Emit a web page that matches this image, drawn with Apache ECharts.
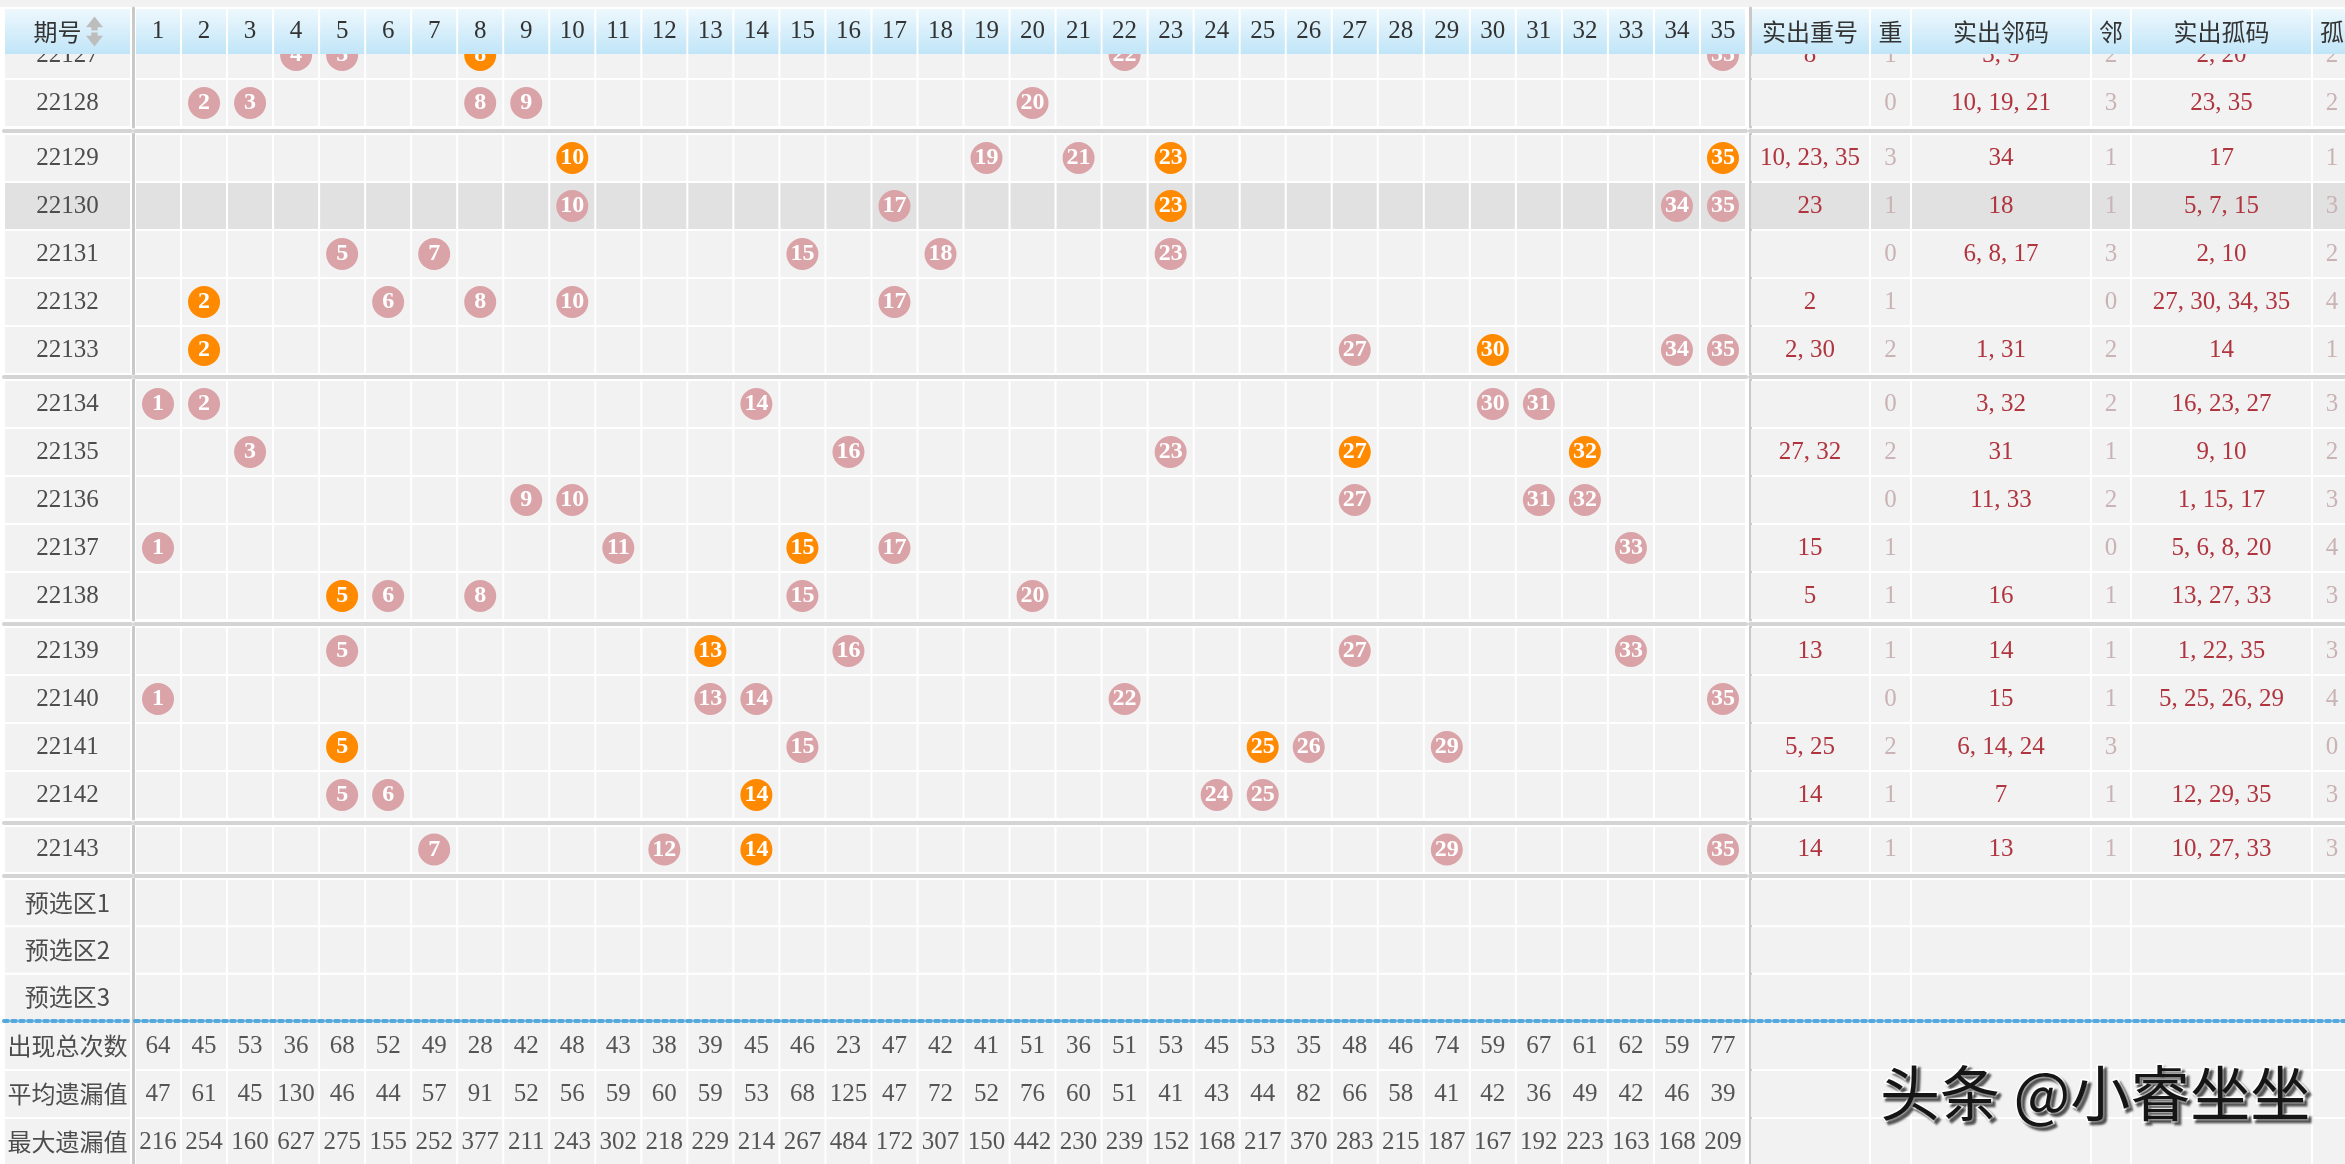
<!DOCTYPE html>
<html><head><meta charset="utf-8">
<script src="https://cdn.jsdelivr.net/npm/echarts@6/dist/echarts.min.js"></script>
<style>html,body{margin:0;padding:0;background:#fff}#c{width:2345px;height:1164px}</style>
</head><body><div id="c"></div>
<script>
// ---------------- DATA ----------------
const periods = ['22127','22128','22129','22130','22131','22132','22133','22134','22135','22136','22137','22138','22139','22140','22141','22142','22143'];
const draws = [
  [4,5,8,22,35],[2,3,8,9,20],[10,19,21,23,35],[10,17,23,34,35],[5,7,15,18,23],
  [2,6,8,10,17],[2,27,30,34,35],[1,2,14,30,31],[3,16,23,27,32],[9,10,27,31,32],
  [1,11,15,17,33],[5,6,8,15,20],[5,13,16,27,33],[1,13,14,22,35],[5,15,25,26,29],
  [5,6,14,24,25],[7,12,14,29,35]
];
const repeatNums = [[8],[],[10,23,35],[23],[],[2],[2,30],[],[27,32],[],[15],[5],[13],[],[5,25],[14],[14]];
const repeatCount = [1,0,3,1,0,1,2,0,2,0,1,1,1,0,2,1,1];
const adjNums = [[3,9],[10,19,21],[34],[18],[6,8,17],[],[1,31],[3,32],[31],[11,33],[],[16],[14],[15],[6,14,24],[7],[13]];
const adjCount = [2,3,1,1,3,0,2,2,1,2,0,1,1,1,3,1,1];
const isoNums = [[2,20],[23,35],[17],[5,7,15],[2,10],[27,30,34,35],[14],[16,23,27],[9,10],[1,15,17],[5,6,8,20],[13,27,33],[1,22,35],[5,25,26,29],[],[12,29,35],[10,27,33]];
const isoCount = [2,2,1,3,2,4,1,3,2,3,4,3,3,4,0,3,3];
const numCols = ['1','2','3','4','5','6','7','8','9','10','11','12','13','14','15','16','17','18','19','20','21','22','23','24','25','26','27','28','29','30','31','32','33','34','35'];
const rightHeads = ['实出重号','重','实出邻码','邻','实出孤码','孤'];
const periodHead = '期号';
const preselLabels = ['预选区1','预选区2','预选区3'];
const statLabels = ['出现总次数','平均遗漏值','最大遗漏值'];
const totalCount = [64,45,53,36,68,52,49,28,42,48,43,38,39,45,46,23,47,42,41,51,36,51,53,45,53,35,48,46,74,59,67,61,62,59,77];
const avgMiss = [47,61,45,130,46,44,57,91,52,56,59,60,59,53,68,125,47,72,52,76,60,51,41,43,44,82,66,58,41,42,36,49,42,46,39];
const maxMiss = [216,254,160,627,275,155,252,377,211,243,302,218,229,214,267,484,172,307,150,442,230,239,152,168,217,370,283,215,187,167,192,223,163,168,209];
const highlightPeriod = '22130';
const watermark = '头条 @小睿坐坐';

// ---------------- LAYOUT / STYLE ----------------
const SERIF = '"Liberation Serif","Noto Sans CJK SC",serif';
const CJK = '"Noto Sans CJK SC","Liberation Serif",sans-serif';
const PINK = '#d9a3a8', ORANGE = '#ff8a00';
const CELL = '#f2f2f2', HL = '#e1e1e1';
const RED = '#b0353f', FAINT = '#c9b3b5';
const rightWidths = [120,41,180,40,181,40];
const rightEdges = [0]; rightWidths.forEach(w => rightEdges.push(rightEdges[rightEdges.length-1] + w));
const zones = [
  {kind:'L', left:4, width:127},
  {kind:'N', left:135, width:1611},
  {kind:'R', left:1750, width:rightEdges[rightEdges.length-1]}
];
const bands = [
  {key:'head', top:8, height:47, rows:[periodHead]},
  {key:'g', top:31, height:96, rows:periods.slice(0,2), sep:3.5},
  {key:'g', top:134, height:240, rows:periods.slice(2,7), sep:3},
  {key:'g', top:380, height:240, rows:periods.slice(7,12), sep:3.5},
  {key:'g', top:627, height:192, rows:periods.slice(12,16), sep:3.5},
  {key:'g', top:826, height:47, rows:periods.slice(16), sep:3},
  {key:'pre', top:879, height:142, rows:preselLabels, dotted:true},
  {key:'stat', top:1022, height:144, rows:statLabels}
];
const headFill = new echarts.graphic.LinearGradient(0,0,0,1,[{offset:0,color:'#eef8fd'},{offset:1,color:'#c0e5f8'}]);

const grids = [], xAxes = [], yAxes = [], series = [];

function cellSeries(gi, kind, cells, z) {
  return {
    type:'custom', xAxisIndex:gi, yAxisIndex:gi, z, silent:true, animation:false,
    data: cells.map(c => [c.x, c.y]),
    renderItem: (params, api) => {
      const c = cells[params.dataIndex];
      let x0, x1, yc, h;
      if (kind === 'R') {
        x0 = api.coord([rightEdges[c.x], c.y])[0];
        x1 = api.coord([rightEdges[c.x+1], c.y])[0];
        yc = api.coord([rightEdges[c.x], c.y])[1];
        h = api.size([0,1])[1];
      } else {
        const p = api.coord([c.x, c.y]);
        const s = api.size([1,1]);
        x0 = p[0] - s[0]/2; x1 = p[0] + s[0]/2; yc = p[1]; h = s[1];
      }
      const children = [{type:'rect', shape:{x:x0+1, y:yc-h/2+1, width:x1-x0-2, height:h-2}, style:{fill:c.fill}}];
      if (c.text) children.push({type:'text', style:{text:c.text, x:(x0+x1)/2 + (c.dx||0), y:yc + (c.dy||0), align:'center', verticalAlign:'middle', fill:c.color, fontSize:c.size, fontFamily:c.font}});
      return {type:'group', children};
    }
  };
}

bands.forEach((b, bi) => {
  const isHead = b.key === 'head';
  zones.forEach((zn, zi) => {
    const gi = grids.length;
    grids.push({left:zn.left, width:zn.width, top:b.top, height:b.height, show:false, outerBoundsMode:'none'});
    const xLine = b.dotted ? {color:'#55a8dc', width:4, type:[4,4]} : {color:'#d4d4d4', width:4};
    const xa = {gridIndex:gi, position:'bottom', offset:b.sep || 0, z: b.dotted ? 6 : (isHead ? 11 : 0),
      axisLine:{show:!!(b.sep || b.dotted), onZero:false, lineStyle:xLine},
      axisTick:{show:false}, axisLabel:{show:false}, splitLine:{show:false}};
    if (zn.kind === 'R') Object.assign(xa, {type:'value', min:0, max:rightEdges[rightEdges.length-1]});
    else if (zn.kind === 'N') Object.assign(xa, {type:'category', data:numCols});
    else Object.assign(xa, {type:'category', data:['label']});
    xAxes.push(xa);
    yAxes.push({gridIndex:gi, type:'category', data:b.rows, inverse:true, position:'left', offset:2, z: isHead ? 11 : 0,
      axisLine:{show:zi > 0, lineStyle:{color:'#c9c9c9', width:3}},
      axisTick:{show:false}, axisLabel:{show:false}, splitLine:{show:false}});

    const cells = [];
    const z = isHead ? 10 : 1;
    b.rows.forEach((rowName, ri) => {
      const pi = periods.indexOf(rowName);
      const hl = rowName === highlightPeriod;
      if (zn.kind === 'L') {
        if (isHead) cells.push({x:0, y:ri, fill:headFill, text:rowName, color:'#333', size:24, font:CJK, dx:-10});
        else cells.push({x:0, y:ri, fill: hl ? HL : CELL, text:rowName, color:'#4d4d4d', size: pi >= 0 ? 25 : 24, font: pi >= 0 ? SERIF : CJK});
      } else if (zn.kind === 'N') {
        numCols.forEach((nc, ci) => {
          let text = '', color = '#555';
          if (isHead) { text = nc; color = '#333'; }
          else if (b.key === 'stat') text = String([totalCount, avgMiss, maxMiss][ri][ci]);
          cells.push({x:ci, y:ri, fill: isHead ? headFill : (hl ? HL : CELL), text, color, size:25, font:SERIF});
        });
      } else {
        rightHeads.forEach((h, ci) => {
          let text = '', color = RED;
          const isCount = ci % 2 === 1;
          if (isHead) { text = h; color = '#333'; }
          else if (pi >= 0) {
            const vals = [repeatNums[pi].join(', '), String(repeatCount[pi]), adjNums[pi].join(', '), String(adjCount[pi]), isoNums[pi].join(', '), String(isoCount[pi])];
            text = vals[ci]; color = isCount ? FAINT : RED;
          }
          cells.push({x:ci, y:ri, fill: isHead ? headFill : (hl ? HL : CELL), text, color, size: isHead ? 24 : 25, font: isHead ? CJK : SERIF});
        });
      }
    });
    series.push(cellSeries(gi, zn.kind, cells, z));

    if (zn.kind === 'N' && b.key === 'g') {
      const data = [];
      b.rows.forEach(p => {
        const i = periods.indexOf(p);
        draws[i].forEach(n => data.push({value:[String(n), p], itemStyle:{color: repeatNums[i].includes(n) ? ORANGE : PINK, opacity:1}}));
      });
      series.push({type:'scatter', xAxisIndex:gi, yAxisIndex:gi, z:3, silent:true, symbol:'circle', symbolSize:32, data,
        itemStyle:{opacity:1},
        label:{show:true, position:'inside', formatter: p => p.value[0], color:'#fff', fontSize:24, fontWeight:'bold', fontFamily:SERIF}});
    }
    if (zn.kind === 'L' && isHead) {
      series.push({type:'scatter', xAxisIndex:gi, yAxisIndex:gi, z:12, silent:true,
        symbol:'path://M8,0L16,10H11V13H5V10H0Z M5,15H11V18H16L8,28L0,18H5Z', symbolSize:[17,30], symbolOffset:[27,0],
        itemStyle:{color:'#bdbdbd', opacity:1}, data:[[0,0]]});
    }
  });
});

const chart = echarts.init(document.getElementById('c'), null, {renderer:'canvas', width:2345, height:1164});
chart.setOption({
  animation:false,
  backgroundColor:'#ffffff',
  title:{text:watermark, left:1875, top:1058, textStyle:{fontSize:60, fontFamily:CJK, fontWeight:'normal', color:'#151515',
    textBorderColor:'#ffffff', textBorderWidth:3, textShadowColor:'rgba(0,0,0,0.5)', textShadowBlur:2, textShadowOffsetX:3, textShadowOffsetY:3}},
  graphic:[{type:'rect', z:-1, shape:{x:0, y:0, width:2345, height:7}, style:{fill:'#f2f2f2'}}],
  grid:grids, xAxis:xAxes, yAxis:yAxes, series
});
</script></body></html>
